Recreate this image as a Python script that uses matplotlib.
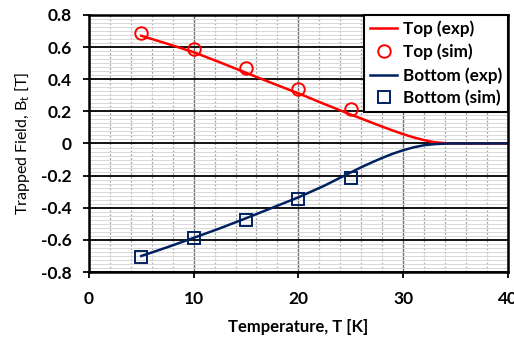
import numpy as np
import matplotlib
matplotlib.use("Agg")
import matplotlib.pyplot as plt
from matplotlib.ticker import MultipleLocator

plt.rcParams['font.family'] = ['Lato', 'DejaVu Sans']

# --- data ---
T_sim = [5, 10, 15, 20, 25]
top_sim = [0.69, 0.585, 0.469, 0.34, 0.215]
bot_sim = [-0.705, -0.585, -0.477, -0.344, -0.214]

T_exp = [5, 7.5, 10, 12.5, 15, 17.5, 20, 22.5, 25, 26, 27, 28, 29, 30, 31, 32, 33, 34, 35, 40]
top_exp = [0.67, 0.62, 0.568, 0.505, 0.44, 0.375, 0.312, 0.245, 0.18, 0.155, 0.13, 0.105,
           0.081, 0.058, 0.038, 0.021, 0.008, 0.002, 0.0, 0.0]
bot_exp = [-0.70, -0.645, -0.587, -0.528, -0.465, -0.40, -0.335, -0.262, -0.18, -0.148,
           -0.118, -0.09, -0.064, -0.042, -0.024, -0.011, -0.004, -0.001, 0.0, 0.0]

RED = "#FF0000"
NAVY = "#002060"

fig = plt.figure(figsize=(5.14, 3.38), dpi=100)
ax = fig.add_axes([0.173, 0.195, 0.815, 0.761])

# --- grid ---
ax.set_axisbelow(True)
ax.xaxis.set_major_locator(MultipleLocator(10))
ax.xaxis.set_minor_locator(MultipleLocator(2))
ax.yaxis.set_major_locator(MultipleLocator(0.2))
ax.yaxis.set_minor_locator(MultipleLocator(0.025))
ax.grid(True, which="major", axis="x", color="#707070", lw=1.0)
ax.grid(True, which="minor", axis="x", color="#A0A0A0", lw=0.9, ls=(0, (1.5, 1.5)))
ax.grid(True, which="major", axis="y", color="black", lw=1.3)
ax.grid(True, which="minor", axis="y", color="#D8D8D8", lw=0.7)

# --- series ---
ax.plot(T_exp, top_exp, color=RED, lw=1.8, label="Top (exp)")
ax.plot(T_sim, top_sim, ls="none", marker="o", ms=9, mfc="none", mec=RED, mew=1.4,
        label="Top (sim)", zorder=6)
ax.plot(T_exp, bot_exp, color=NAVY, lw=1.8, label="Bottom (exp)")
ax.plot(T_sim, bot_sim, ls="none", marker="s", ms=8.5, mfc="none", mec=NAVY, mew=1.4,
        label="Bottom (sim)", zorder=6)

ax.set_xlim(0, 40)
ax.set_ylim(-0.8, 0.8)
ax.set_xticks([0, 10, 20, 30, 40])
ax.set_xticklabels(["0", "10", "20", "30", "40"])
ax.set_yticks(np.round(np.arange(-0.8, 0.81, 0.2), 1))
ax.set_yticklabels(["-0.8", "-0.6", "-0.4", "-0.2", "0", "0.2", "0.4", "0.6", "0.8"])

for s in ax.spines.values():
    s.set_linewidth(1.8)
    s.set_color("black")

ax.tick_params(axis="both", which="major", direction="out", length=4.5, width=1.3,
               labelsize=12.5)
ax.tick_params(axis="x", which="major", pad=9)
ax.tick_params(axis="y", which="major", pad=8)
ax.tick_params(which="minor", length=0)
for lab in ax.get_xticklabels() + ax.get_yticklabels():
    lab.set_fontweight("bold")

ax.set_xlabel("Temperature, T [K]", fontsize=12, fontweight="bold", labelpad=9)
ax.set_ylabel("Trapped Field, B$_\\mathregular{t}$ [T]", fontsize=11.5, labelpad=6)

leg = ax.legend(loc="upper right", bbox_to_anchor=(1.0, 1.0), borderaxespad=0,
                fancybox=False, framealpha=1, edgecolor="black", handlelength=1.6,
                handletextpad=0.3, borderpad=0.35, labelspacing=0.38,
                prop={"size": 12.3, "weight": "bold"})
leg.get_frame().set_linewidth(1.5)
leg.set_zorder(5)

fig.savefig("out.png", dpi=100)
